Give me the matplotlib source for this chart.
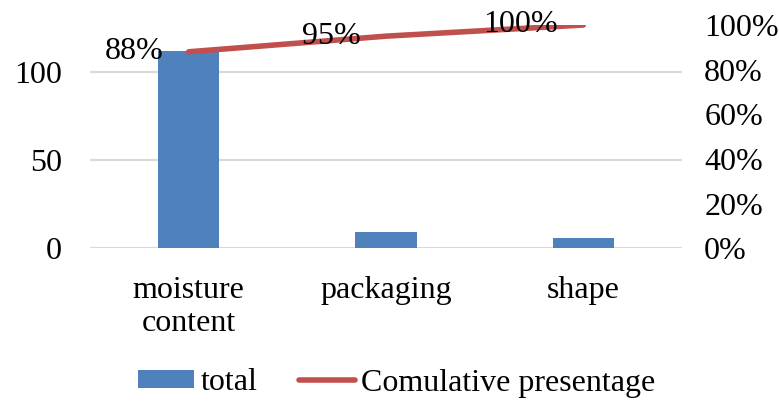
import matplotlib
matplotlib.use('Agg')
import matplotlib.pyplot as plt
from matplotlib.patches import Patch
from matplotlib.lines import Line2D

plt.rcParams['font.family'] = ['Liberation Serif', 'DejaVu Serif']

categories = ['moisture\ncontent', 'packaging', 'shape']
totals = [112, 9, 6]
cum_pct = [0.88, 0.95, 1.00]
pct_labels = ['88%', '95%', '100%']
left_ticks = [0, 50, 100]
right_ticks = [0, 0.2, 0.4, 0.6, 0.8, 1.0]

bar_color = '#4F81BD'
line_color = '#C0504D'
fs = 23

fig = plt.figure(figsize=(7.79, 4.01), dpi=100)
ax = fig.add_axes([90/779, (401-248.3)/401, 592/779, 223.3/401])
x = list(range(len(categories)))
ax.bar(x, totals, width=0.31, color=bar_color, zorder=2)
ax.set_xlim(-0.5, len(categories)-0.5)
ax.set_ylim(0, sum(totals))
ax.set_yticks(left_ticks)
ax.set_xticks(x)
ax.set_xticklabels(categories, fontsize=fs, linespacing=1.2)
ax.tick_params(axis='x', length=0, pad=20)
ax.tick_params(axis='y', length=0, pad=20, labelsize=fs)
ax.grid(axis='y', color='#D9D9D9', linewidth=1.5, zorder=0)
for s in ax.spines.values():
    s.set_visible(False)

ax2 = ax.twinx()
ax2.plot(x, cum_pct, color=line_color, linewidth=4, solid_capstyle='round', zorder=3)
ax2.set_ylim(0, 1.0)
ax2.set_yticks(right_ticks)
ax2.set_yticklabels(['%d%%' % round(t*100) for t in right_ticks])
ax2.tick_params(axis='y', length=0, pad=16, labelsize=fs)
for s in ax2.spines.values():
    s.set_visible(False)
for xi, yi, lab in zip(x, cum_pct, pct_labels):
    ax2.annotate(lab, (xi, yi), xytext=(-18, 0), textcoords='offset points',
                 ha='right', va='center', fontsize=fs)

handles = [Patch(facecolor=bar_color, label='total'),
           Line2D([0], [0], color=line_color, linewidth=4, solid_capstyle='round',
                  label='Comulative presentage')]
fig.legend(handles=handles, loc='center', bbox_to_anchor=(397/779, 1-383/401),
           ncol=2, frameon=False, fontsize=fs, handlelength=1.75, handleheight=0.5,
           handletextpad=0.2, columnspacing=1.3)

fig.savefig('out.png', dpi=100)
